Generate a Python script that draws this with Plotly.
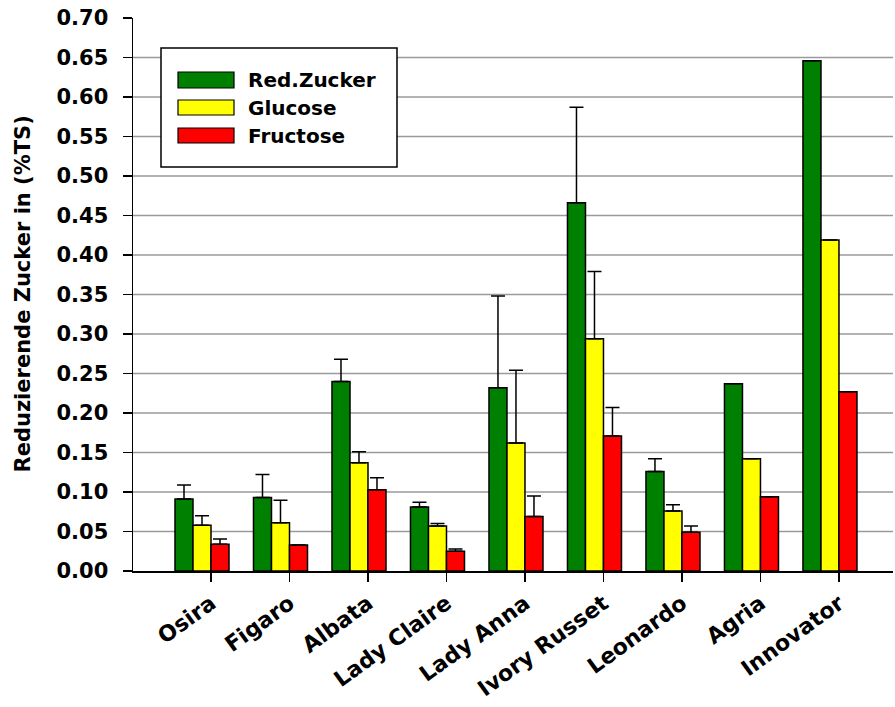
import plotly.graph_objects as go

categories = ["Osira", "Figaro", "Albata", "Lady Claire", "Lady Anna",
              "Ivory Russet", "Leonardo", "Agria", "Innovator"]
series_names = ["Red.Zucker", "Glucose", "Fructose"]
red_zucker = [0.091, 0.093, 0.240, 0.081, 0.232, 0.466, 0.126, 0.237, 0.646]
glucose = [0.058, 0.061, 0.137, 0.057, 0.162, 0.294, 0.076, 0.142, 0.419]
fructose = [0.034, 0.033, 0.103, 0.025, 0.069, 0.171, 0.049, 0.094, 0.227]
err_red_zucker = [0.018, 0.029, 0.028, 0.006, 0.116, 0.121, 0.016, None, None]
err_glucose = [0.012, 0.0285, 0.014, 0.003, 0.092, 0.085, 0.008, None, None]
err_fructose = [0.0065, None, 0.015, 0.003, 0.026, 0.036, 0.008, None, None]
y_ticks = [0.00, 0.05, 0.10, 0.15, 0.20, 0.25, 0.30, 0.35, 0.40, 0.45,
           0.50, 0.55, 0.60, 0.65, 0.70]

colors = ["#008000", "#FFFF00", "#FF0000"]
FONT = "DejaVu Sans"

x_idx = list(range(len(categories)))
values = [red_zucker, glucose, fructose]
errors = [err_red_zucker, err_glucose, err_fructose]

fig = go.Figure()
for name, vals, errs, col in zip(series_names, values, errors, colors):
    fig.add_trace(go.Bar(
        x=x_idx, y=vals, name=name, showlegend=False,
        marker=dict(color=col, line=dict(color="black", width=1.5)),
        error_y=dict(type="data", array=errs, arrayminus=[0] * len(errs),
                     symmetric=False, color="black", thickness=1.5, width=7),
    ))

shapes = []
# horizontal grid lines (behind bars)
for v in y_ticks[1:-1]:
    shapes.append(dict(type="line", xref="paper", yref="y", x0=0, x1=1,
                       y0=v, y1=v, line=dict(color="#9a9a9a", width=1.5),
                       layer="below"))

W, H = 895, 707
L, T, R, B = 133, 18, 2, 136
pw, ph = W - L - R, H - T - B

def px(x):
    return (x - L) / pw

def py(y):
    return 1 - (y - T) / ph

shapes.append(dict(type="rect", xref="paper", yref="paper",
                   x0=px(161), x1=px(397), y0=py(48), y1=py(167),
                   line=dict(color="black", width=1.5), fillcolor="white",
                   layer="above"))
annotations = []
rows = [(72, 88, 80), (100, 115, 108), (128, 143, 136)]
for (y0, y1, yc), name, col in zip(rows, series_names, colors):
    shapes.append(dict(type="rect", xref="paper", yref="paper",
                       x0=px(178), x1=px(234), y0=py(y0), y1=py(y1),
                       line=dict(color="black", width=1.2), fillcolor=col,
                       layer="above"))
    annotations.append(dict(text="<b>%s</b>" % name, xref="paper", yref="paper",
                            x=px(246), y=py(yc), xanchor="left", yanchor="middle",
                            showarrow=False,
                            font=dict(family=FONT, size=20, color="black")))

annotations.append(dict(text="<b>Reduzierende Zucker in (%TS)</b>",
                        xref="paper", yref="paper", x=px(22), y=0.5,
                        xanchor="center", yanchor="middle", textangle=-90,
                        showarrow=False,
                        font=dict(family=FONT, size=21, color="black")))

fig.update_layout(
    width=W, height=H,
    margin=dict(l=L, r=R, t=T, b=B, autoexpand=False),
    paper_bgcolor="white", plot_bgcolor="white",
    barmode="group", bargap=0.312, bargroupgap=0,
    shapes=shapes, annotations=annotations,
    font=dict(family=FONT, color="black"),
)
fig.update_xaxes(
    range=[-0.879, 8.803], showgrid=False, zeroline=False,
    showline=True, linecolor="black", linewidth=2,
    tickmode="array", tickvals=[i + 0.115 for i in x_idx],
    ticktext=["<b>%s</b>" % c for c in categories],
    ticks="outside", ticklen=9, tickwidth=1.5, tickcolor="black",
    tickangle=-36, tickfont=dict(family=FONT, size=22, color="black"),
)
fig.update_yaxes(
    range=[0, 0.70], showgrid=False, zeroline=False,
    showline=True, linecolor="black", linewidth=1.5,
    tickmode="array", tickvals=y_ticks,
    ticktext=["<b>%.2f</b>" % v for v in y_ticks],
    ticks="outside", ticklen=9, tickwidth=1.5, tickcolor="black",
    tickfont=dict(family=FONT, size=21, color="black"),
    ticklabelstandoff=10,
)

fig.write_html(
    "out.html",
    config={"displayModeBar": False, "staticPlot": True},
    post_script="document.body.style.margin='0';document.body.style.overflow='hidden';",
)
